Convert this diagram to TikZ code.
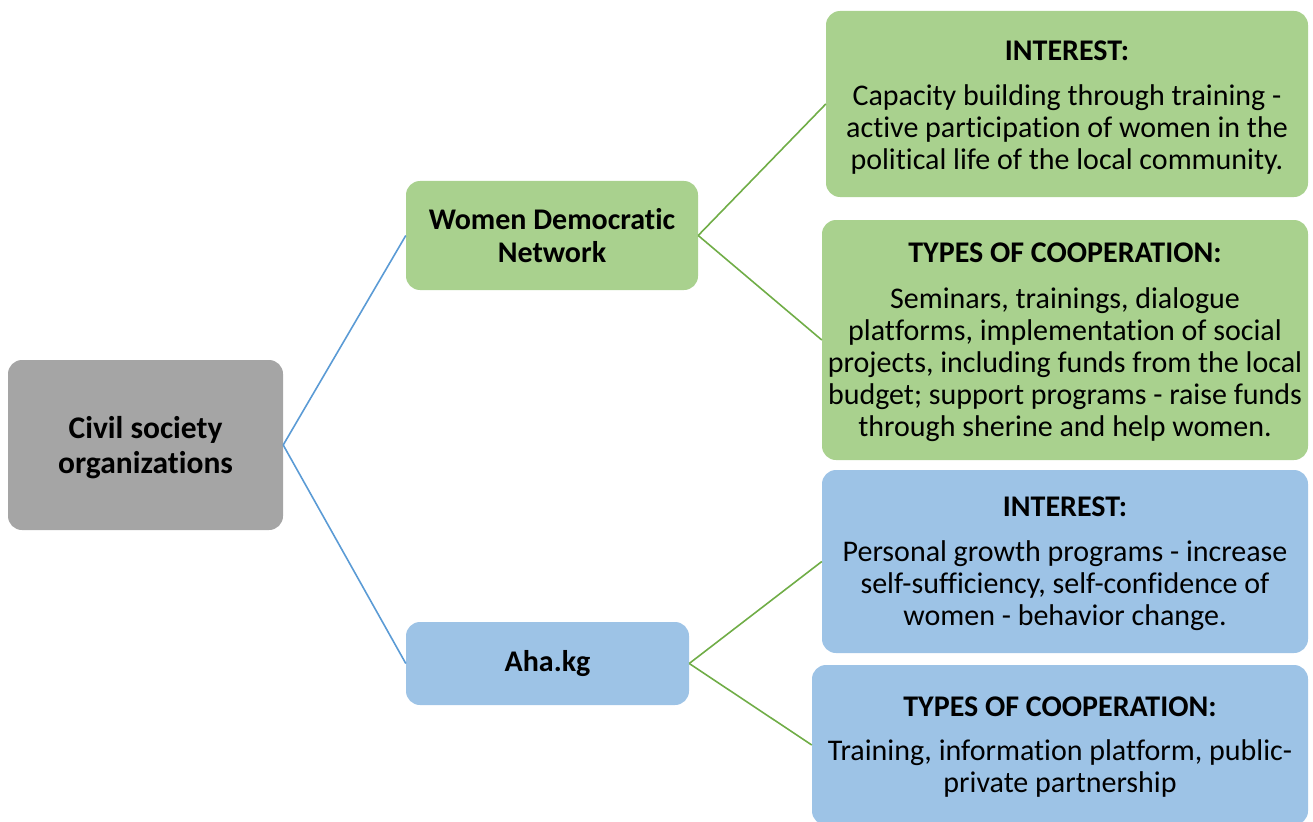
\documentclass[tikz,border=0pt]{standalone}
\usepackage{fontspec}
\setmainfont{Carlito}[Ligatures=NoCommon]
\definecolor{grayfill}{HTML}{A5A5A5}
\definecolor{greenfill}{HTML}{A9D18E}
\definecolor{bluefill}{HTML}{9DC3E6}
\definecolor{blueline}{HTML}{5B9BD5}
\definecolor{greenline}{HTML}{70AD47}
\begin{document}
\begin{tikzpicture}[x=1pt,y=-1pt,
  box/.style={rounded corners=14pt, inner sep=0pt},
  txt/.style={inner sep=0pt, align=center, text=black,
    font=\fontsize{30}{32}\selectfont},
  headtxt/.style={txt, font=\fontsize{30}{33}\selectfont\bfseries},
  grn/.style={fill=greenfill},
  blu/.style={fill=bluefill},
  gry/.style={fill=grayfill},
  bline/.style={draw=blueline, line width=1.6pt},
  gline/.style={draw=greenline, line width=1.6pt}]
\useasboundingbox (0,0) rectangle (1313,821);
\clip (0,0) rectangle (1313,821);

\node[box, gry, minimum width=275pt, minimum height=170pt,
  label={[headtxt, font=\fontsize{31.5}{35}\selectfont\bfseries, yshift=-3pt]center:{Civil society\\organizations}}]
  (cso) at (145.5,445) {};
\node[box, grn, minimum width=292pt, minimum height=109pt,
  label={[headtxt]center:{Women Democratic\\Network}}]
  (wdn) at (552,235.5) {};
\node[box, blu, minimum width=283pt, minimum height=83pt,
  label={[headtxt]center:{Aha.kg}}]
  (aha) at (547.5,663.5) {};

\node[box, grn, minimum width=482pt, minimum height=186pt,
  label={[txt, yshift=-3.5pt]center:{\textbf{INTEREST:}\\[13pt]
   Capacity building through training -\\
   active participation of women in the\\
   political life of the local community.}}]
  (gi) at (1067,104) {};
\node[box, grn, minimum width=486pt, minimum height=240pt,
  label={[txt, yshift=-2pt]center:{\textbf{TYPES OF COOPERATION:}\\[14pt]
   Seminars, trainings, dialogue\\
   platforms, implementation of social\\
   projects, including funds from the local\\
   budget; support programs - raise funds\\
   through sherine and help women.}}]
  (gt) at (1065,340) {};
\node[box, blu, minimum width=486pt, minimum height=183pt,
  label={[txt, yshift=-2pt]center:{\textbf{INTEREST:}\\[13pt]
   Personal growth programs - increase\\
   self-sufficiency, self-confidence of\\
   women - behavior change.}}]
  (bi) at (1065,561.5) {};
\node[box, blu, minimum width=496pt, minimum height=160pt,
  label={[txt, yshift=-2pt]center:{\textbf{TYPES OF COOPERATION:}\\[12pt]
   Training, information platform, public-\\
   private partnership}}]
  (bt) at (1060,745) {};

\draw[bline] (cso.east) -- (wdn.west);
\draw[bline] (cso.east) -- (aha.west);
\draw[gline] (wdn.east) -- (gi.west);
\draw[gline] (wdn.east) -- (gt.west);
\draw[gline] (aha.east) -- (bi.west);
\draw[gline] (aha.east) -- (bt.west);
\end{tikzpicture}
\end{document}
